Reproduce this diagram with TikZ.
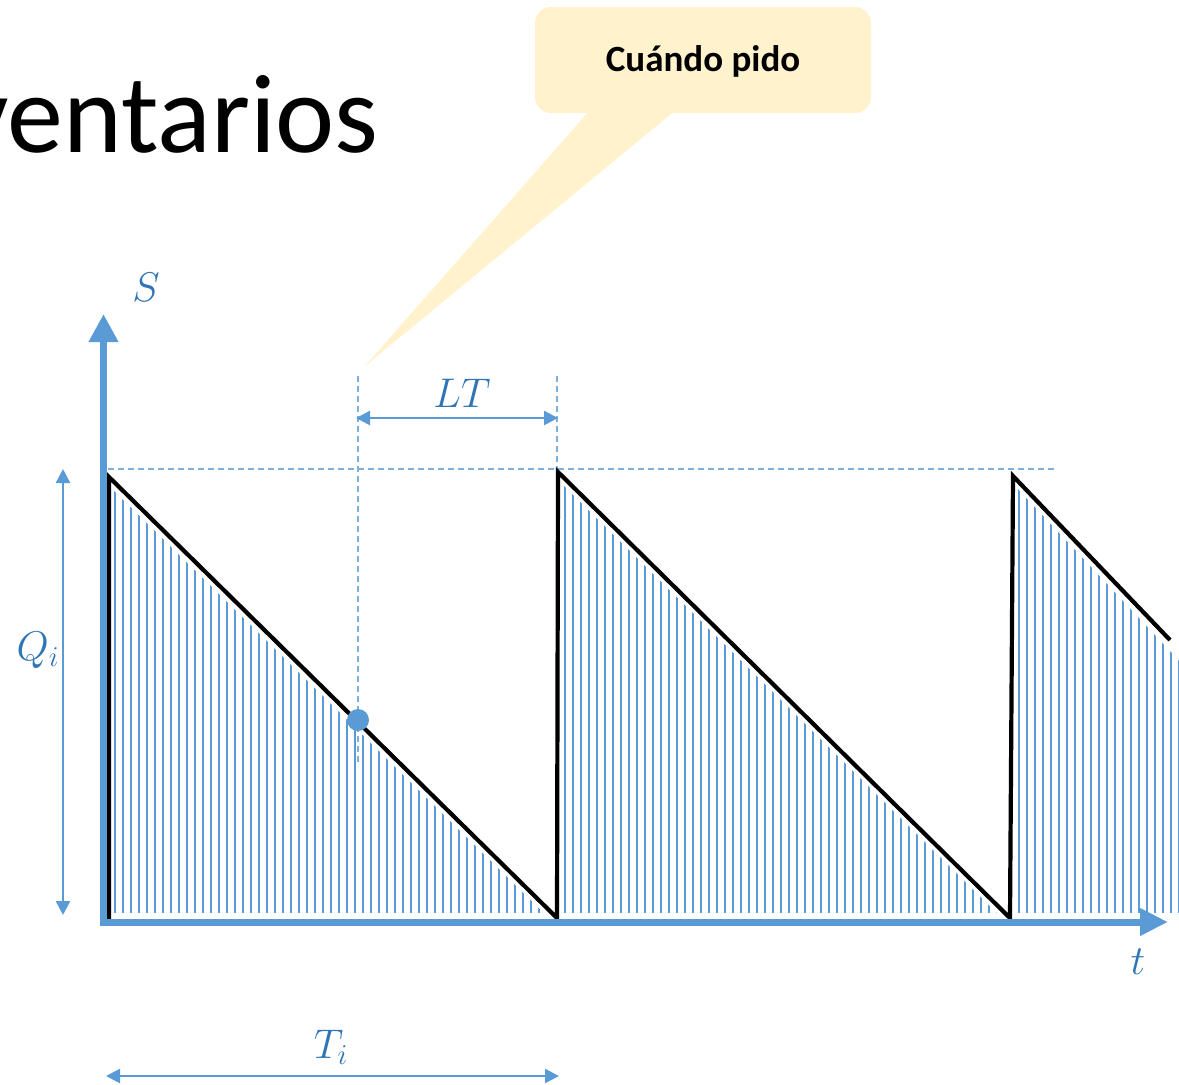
\documentclass[tikz,border=0pt]{standalone}
\usepackage{fontspec}
\setmainfont{Carlito}
\usetikzlibrary{arrows.meta}
\definecolor{axisblue}{HTML}{5B9BD5}
\definecolor{labelblue}{HTML}{2E75B6}
\definecolor{dashblue}{HTML}{7EB0DE}
\definecolor{calloutfill}{HTML}{FFF2CC}
\begin{document}
\begin{tikzpicture}[x=0.5pt,y=-0.5pt,
  axisline/.style={draw=axisblue,line width=3.5pt},
  dimarrow/.style={draw=axisblue,line width=1.2pt,{Triangle[length=7pt,width=7pt]}-{Triangle[length=7pt,width=7pt]}},
  guide/.style={draw=dashblue,line width=0.6pt,dash pattern=on 3pt off 2pt},
  hatch/.style={draw=axisblue,line width=0.95pt},
  saw/.style={draw=black,line width=2.1pt,line join=miter},
  mathlabel/.style={text=labelblue,font=\fontsize{22}{26}\selectfont,inner sep=0pt}]
\useasboundingbox (0,0) rectangle (1179,1084);
\clip (0,0) rectangle (1179,1084);

% title fragment
\node[anchor=base east,inner sep=0pt,font=\fontsize{56}{64}\selectfont] (title) at (379,152) {ventarios};

% callout
\fill[calloutfill,rounded corners=8pt] (535,7) rectangle (871,113);
\fill[calloutfill] (590,110) -- (676,110) -- (365,366) -- cycle;
\node[font=\bfseries\fontsize{18.5}{22}\selectfont,inner sep=0pt] (call) at (703,61) {Cuándo pido};

% hatching
\begin{scope}
  \clip (110,487) -- (557,926) -- (110,926) -- cycle;
  \foreach \x in {115,123,...,555} \draw[hatch] (\x,400) -- (\x,913);
\end{scope}
\begin{scope}
  \clip (560,482) -- (1010,926) -- (560,926) -- cycle;
  \foreach \x in {565,573,...,1008} \draw[hatch] (\x,400) -- (\x,913);
\end{scope}
\begin{scope}
  \clip (1015,486) -- (1185,667) -- (1185,926) -- (1015,926) -- cycle;
  \foreach \x in {1019,1027,...,1179} \draw[hatch] (\x,400) -- (\x,913);
\end{scope}

% guides
\coordinate (top0) at (108,469);
\coordinate (top1) at (1055,469);
\draw[guide] (top0) -- (top1);
\coordinate (rp) at (358,720);
\coordinate (rpTop) at (358,376);
\coordinate (rpBot) at (358,766);
\draw[guide] (rpTop) -- (rpBot);
\coordinate (lt1Top) at (557,376);
\coordinate (lt1Bot) at (557,469);
\draw[guide] (lt1Top) -- (lt1Bot);

% sawtooth
\coordinate (p0) at (109,920);
\coordinate (p1) at (109,477);
\coordinate (p2) at (557,918);
\coordinate (p3) at (558,472);
\coordinate (p4) at (1010,918);
\coordinate (p5) at (1013,476);
\coordinate (p6) at (1170,640);
\draw[saw] (p0) -- (p1) -- (p2) -- (p3) -- (p4) -- (p5) -- (p6);

% axes
\coordinate (o) at (103.5,926);
\coordinate (yt) at (103.5,314);
\coordinate (ox) at (100,922);
\coordinate (xt) at (1168,922);
\draw[axisline,-{Triangle[length=14pt,width=14pt]}] (o) -- (yt);
\draw[axisline,-{Triangle[length=14pt,width=13pt]}] (ox) -- (xt);

% reorder point
\fill[axisblue] (rp) circle (5.5pt);

% dimension arrows
\coordinate (lta) at (356,418);
\coordinate (ltb) at (558,418);
\draw[dimarrow] (lta) -- (ltb);
\coordinate (qa) at (63,469);
\coordinate (qb) at (63,915);
\draw[dimarrow] (qa) -- (qb);
\coordinate (ta) at (106,1076);
\coordinate (tb) at (559,1076);
\draw[dimarrow] (ta) -- (tb);

% labels
\node[mathlabel] (S) at (146,287) {$S$};
\node[mathlabel] (LT) at (462,393) {$LT$};
\node[mathlabel] (Q) at (38,650) {$Q_i$};
\node[mathlabel] (t) at (1138,962) {$t$};
\node[mathlabel] (T) at (331,1047) {$T_i$};
\end{tikzpicture}
\end{document}
